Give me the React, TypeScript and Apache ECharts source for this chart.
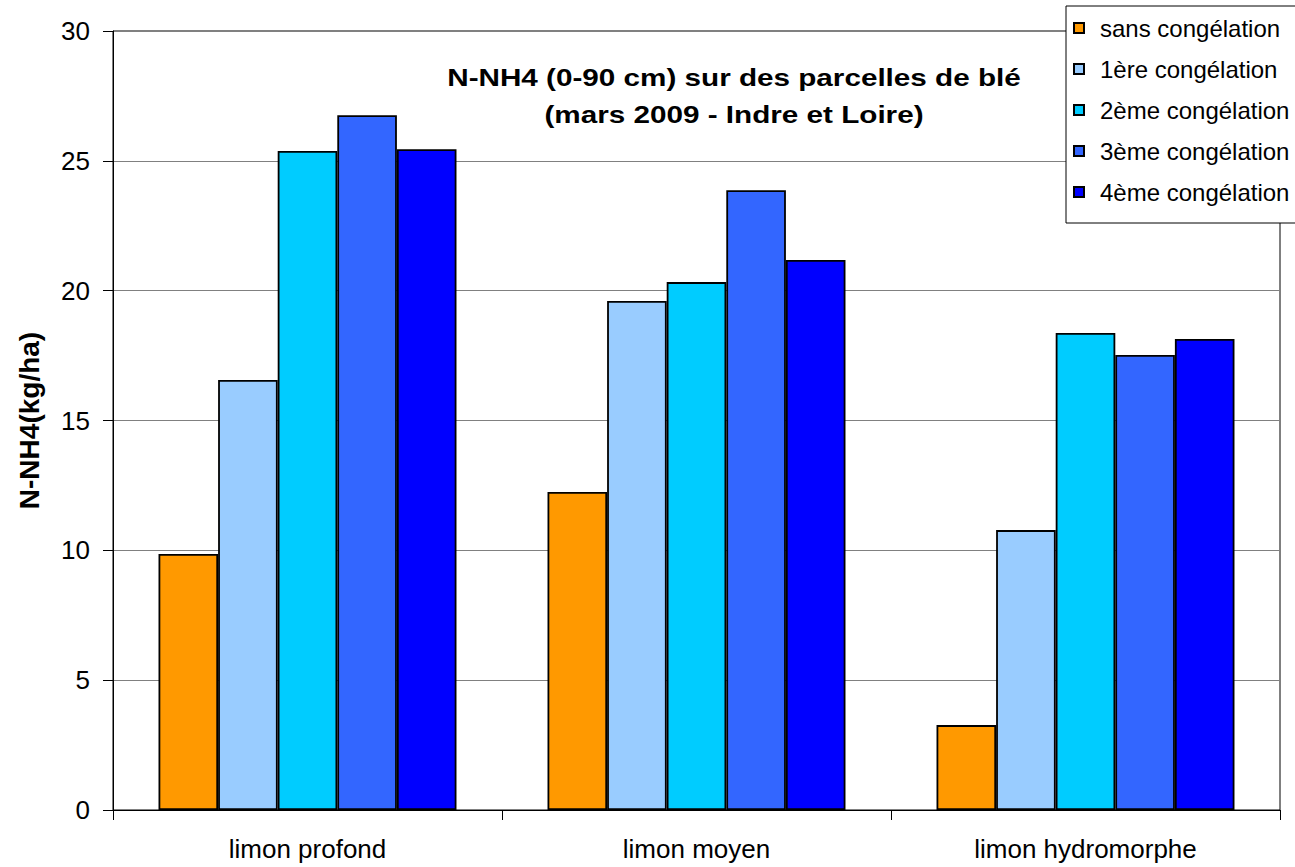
import React, { useEffect, useRef } from "react";
import * as echarts from "echarts";

const categories = ["limon profond", "limon moyen", "limon hydromorphe"];
const seriesNames = [
  "sans congélation",
  "1ère congélation",
  "2ème congélation",
  "3ème congélation",
  "4ème congélation",
];
const sansCongelation = [9.86, 12.25, 3.27];
const premiereCongelation = [16.56, 19.6, 10.78];
const deuxiemeCongelation = [25.38, 20.33, 18.37];
const troisiemeCongelation = [26.76, 23.87, 17.52];
const quatriemeCongelation = [25.45, 21.18, 18.14];
const seriesValues = [
  sansCongelation,
  premiereCongelation,
  deuxiemeCongelation,
  troisiemeCongelation,
  quatriemeCongelation,
];
const colors = ["#FF9900", "#99CCFF", "#00CCFF", "#3366FF", "#0000FF"];
const titleLines = [
  "N-NH4 (0-90 cm) sur des parcelles de blé",
  "(mars 2009 - Indre et Loire)",
];
const yAxisName = "N-NH4(kg/ha)";

const FONT = "'Liberation Sans', Arial, sans-serif";

export default function App() {
  const ref = useRef<HTMLDivElement>(null);

  useEffect(() => {
    if (!ref.current) return;
    const chart = echarts.init(ref.current, null, { renderer: "svg" });
    chart.setOption({
      animation: false,
      backgroundColor: "#ffffff",
      grid: {
        left: 113,
        right: 15,
        top: 31,
        bottom: 57,
        show: true,
        borderColor: "#000000",
        borderWidth: 1,
        containLabel: false,
      },
      graphic: titleLines.map((t, i) => ({
        type: "text",
        x: 734,
        y: 78 + i * 37,
        scaleX: 1.29,
        z: 10,
        style: {
          text: t,
          font: `bold 23px ${FONT}`,
          fill: "#000000",
          textAlign: "center",
          textVerticalAlign: "middle",
        },
      })),
      legend: {
        orient: "vertical",
        left: 1066,
        top: 6,
        itemWidth: 10,
        itemHeight: 10,
        itemGap: 17,
        padding: [10, 40, 19, 7],
        backgroundColor: "#ffffff",
        borderColor: "#000000",
        borderWidth: 1,
        borderRadius: 0,
        icon: "rect",
        textStyle: {
          fontFamily: FONT,
          fontSize: 24,
          color: "#000000",
          padding: [0, 0, 0, 11],
        },
        data: seriesNames,
      },
      xAxis: {
        type: "category",
        data: categories,
        axisLine: { show: true, lineStyle: { color: "#000000", width: 1 } },
        axisTick: { show: true, length: 10, lineStyle: { color: "#000000" } },
        axisLabel: {
          fontFamily: FONT,
          fontSize: 26,
          color: "#000000",
          margin: 26,
        },
        splitLine: { show: false },
      },
      yAxis: {
        type: "value",
        min: 0,
        max: 30,
        interval: 5,
        name: yAxisName,
        nameLocation: "middle",
        nameGap: 70,
        nameTextStyle: {
          fontFamily: FONT,
          fontSize: 28,
          fontWeight: "bold",
          color: "#000000",
        },
        axisLine: { show: true, lineStyle: { color: "#000000", width: 1 } },
        axisTick: { show: true, length: 10, lineStyle: { color: "#000000" } },
        axisLabel: {
          fontFamily: FONT,
          fontSize: 26,
          color: "#000000",
          margin: 23,
        },
        splitLine: { show: true, lineStyle: { color: "#808080", width: 1 } },
      },
      series: seriesNames.map((name, i) => ({
        name,
        type: "bar",
        data: seriesValues[i],
        barGap: "0%",
        barCategoryGap: "23.4%",
        itemStyle: {
          color: colors[i],
          borderColor: "#000000",
          borderWidth: 1.8,
        },
      })),
    });
    return () => chart.dispose();
  }, []);

  return (
    <div
      ref={ref}
      style={{ position: "fixed", left: 0, top: 0, width: 1295, height: 867 }}
    />
  );
}
